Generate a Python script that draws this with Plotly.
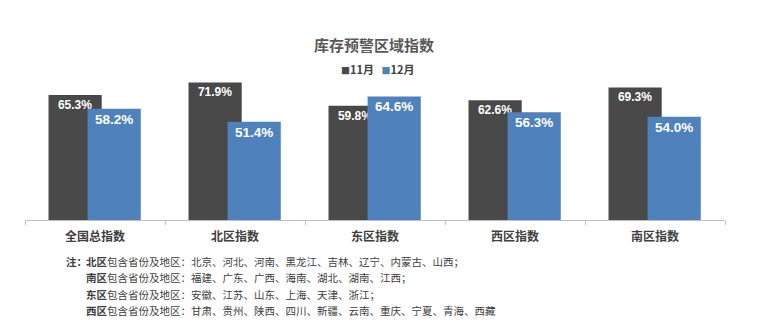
import plotly.graph_objects as go

categories = ["全国总指数", "北区指数", "东区指数", "西区指数", "南区指数"]
nov_values = [65.3, 71.9, 59.8, 62.6, 69.3]
dec_values = [58.2, 51.4, 64.6, 56.3, 54.0]
series_names = ["11月", "12月"]
series_colors = ["#494949", "#4f81bd"]

note_head = "注："
note_rows = [
    ("北区", "包含省份及地区：北京、河北、河南、黑龙江、吉林、辽宁、内蒙古、山西；"),
    ("南区", "包含省份及地区：福建、广东、广西、海南、湖北、湖南、江西；"),
    ("东区", "包含省份及地区：安徽、江苏、山东、上海、天津、浙江；"),
    ("西区", "包含省份及地区：甘肃、贵州、陕西、四川、新疆、云南、重庆、宁夏、青海、西藏"),
]

W, H = 772, 331
ML, MR, MT, MB = 25, 47, 67, 111
PW, PH = W - ML - MR, H - MT - MB

CJK = "Noto Sans CJK SC, Noto Sans, sans-serif"
NUM = "Liberation Sans, Arial, sans-serif"

fig = go.Figure()
fig.add_trace(go.Bar(
    x=categories, y=nov_values, name=series_names[0],
    marker=dict(color=series_colors[0], line=dict(width=0)),
    width=0.38, offset=-0.332,
    texttemplate="<b>%{y:.1f}%</b>", textposition="inside", insidetextanchor="end",
    textangle=0, constraintext="none",
    textfont=dict(family=NUM, size=12, color="white"),
))
fig.add_trace(go.Bar(
    x=categories, y=dec_values, name=series_names[1],
    marker=dict(color=series_colors[1], line=dict(width=0)),
    width=0.38, offset=-0.053,
    texttemplate="<b>%{y:.1f}%</b>", textposition="inside", insidetextanchor="end",
    textangle=0, constraintext="none",
    textfont=dict(family=NUM, size=13.5, color="white"),
))

def py(pix):
    return (MT + PH - pix) / PH

def px(pix):
    return (pix - ML) / PW

legend_text = "   ".join(
    "<span style='color:%s;font-size:9px'>■</span><b>%s</b>" % (c, n) for c, n in zip(series_colors, series_names)
)

annotations = [
    dict(text="<b>库存预警区域指数</b>", x=px(374), y=py(44), xref="paper", yref="paper",
         xanchor="center", yanchor="middle", showarrow=False,
         font=dict(family=CJK, size=15, color="#595959")),
    dict(text=legend_text, x=px(377), y=py(69), xref="paper", yref="paper",
         xanchor="center", yanchor="middle", showarrow=False,
         font=dict(family=CJK, size=11, color="#404040")),
    dict(text="<b>" + note_head + "</b>", x=px(64), y=py(261), xref="paper", yref="paper",
         xanchor="left", yanchor="middle", showarrow=False,
         font=dict(family=CJK, size=10.5, color="#404040")),
]
row_ys = [261, 277.5, 294, 310.5]
for (region, rest), yy in zip(note_rows, row_ys):
    annotations.append(dict(
        text="<b>" + region + "</b>" + rest, x=px(84), y=py(yy), xref="paper", yref="paper",
        xanchor="left", yanchor="middle", showarrow=False,
        font=dict(family=CJK, size=10.5, color="#404040")))

fig.update_layout(
    width=W, height=H,
    margin=dict(l=ML, r=MR, t=MT, b=MB),
    paper_bgcolor="white", plot_bgcolor="white",
    barmode="overlay",
    showlegend=False,
    xaxis=dict(showline=True, linecolor="#bfbfbf", linewidth=1, ticks="outside",
               tickson="boundaries", ticklen=4, tickcolor="#bfbfbf",
               ticklabelstandoff=6,
               tickfont=dict(family=CJK, size=12, color="#404040", weight="bold"),
               showgrid=False, zeroline=False, range=[-0.5, 4.5], fixedrange=True),
    yaxis=dict(range=[0, 80], visible=False, showgrid=False, zeroline=False),
    annotations=annotations,
)

fig.write_html("out.html")
